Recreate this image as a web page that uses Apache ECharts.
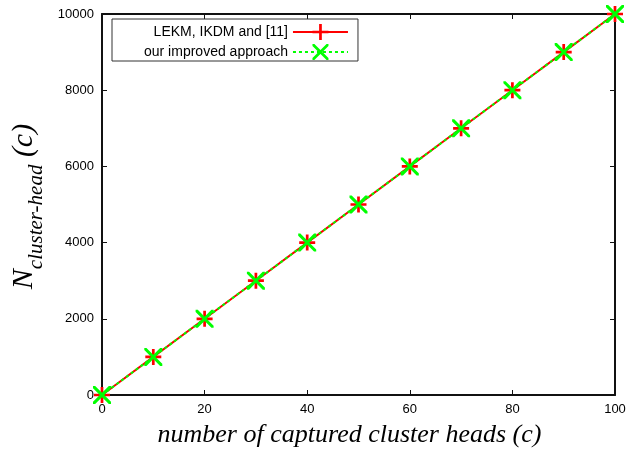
<!DOCTYPE html>
<html>
<head>
<meta charset="utf-8">
<script src="https://cdn.jsdelivr.net/npm/echarts@6/dist/echarts.min.js"></script>
<style>html,body{margin:0;padding:0;background:#fff}#c{width:639px;height:450px}</style>
</head>
<body>
<div id="c"></div>
<script>
const xValues = [0, 10, 20, 30, 40, 50, 60, 70, 80, 90, 100];
const seriesNames = ['LEKM, IKDM and [11]', 'our improved approach'];
const lekmValues = [0, 1000, 2000, 3000, 4000, 5000, 6000, 7000, 8000, 9000, 10000];
const improvedValues = [0, 1000, 2000, 3000, 4000, 5000, 6000, 7000, 8000, 9000, 10000];
const xTicks = [0, 20, 40, 60, 80, 100];
const yTicks = [0, 2000, 4000, 6000, 8000, 10000];

const plusPath = 'path://M41.5,0h17v100h-17z M0,41.5h100v17h-100z';
const crossPath = 'path://M0,0L12,0L100,88L100,100L88,100L0,12Z M100,0L100,12L12,100L0,100L0,88L88,0Z';
const chart = echarts.init(document.getElementById('c'), null, {renderer: 'canvas'});
const pair = (vals) => xValues.map((x, i) => [x, vals[i]]);
const axisCommon = () => ({
  axisLine: {show: true, onZero: false, lineStyle: {color: '#111', width: 2}},
  axisTick: {show: true, inside: true, length: 5, lineStyle: {color: '#111', width: 1}},
  splitLine: {show: false}
});
const labelStyle = () => ({fontFamily: 'Liberation Sans', fontSize: 13, color: '#000'});
chart.setOption({
  animation: false,
  backgroundColor: '#fff',
  grid: {left: 102, right: 24, top: 14, bottom: 55, containLabel: false, outerBoundsMode: 'none'},
  legend: {
    left: 112, top: 19, orient: 'vertical', align: 'right',
    itemWidth: 55, itemHeight: 20, itemGap: 4,
    padding: [5, 9, 1, 32],
    borderColor: '#333', borderWidth: 1, backgroundColor: '#fff',
    textStyle: {fontFamily: 'Liberation Sans', fontSize: 14, color: '#000'},
    data: seriesNames
  },
  xAxis: [
    Object.assign({type: 'value', min: 0, max: 100, interval: 20, position: 'bottom',
      axisLabel: Object.assign({margin: 8, formatter: (v) => xTicks.includes(v) ? String(v) : ''}, labelStyle()),
      name: 'number of captured cluster heads (c)', nameLocation: 'middle', nameGap: 27,
      nameTextStyle: {fontFamily: 'Liberation Serif', fontStyle: 'italic', fontSize: 26, color: '#000', padding: [0, 18, 0, 0]}
    }, axisCommon()),
    Object.assign({type: 'value', min: 0, max: 100, interval: 20, position: 'top', axisLabel: {show: false}}, axisCommon())
  ],
  yAxis: [
    Object.assign({type: 'value', min: 0, max: 10000, interval: 2000, position: 'left',
      axisLabel: Object.assign({margin: 8, formatter: (v) => yTicks.includes(v) ? String(v) : ''}, labelStyle()),
      name: '{n|N}{s|cluster-head}{n| (c)}', nameLocation: 'middle', nameGap: 53,
      nameTextStyle: {color: '#000', padding: [0, 4, 0, 0], rich: {
        n: {fontFamily: 'Liberation Serif', fontStyle: 'italic', fontSize: 30, color: '#000', verticalAlign: 'bottom', lineHeight: 32},
        s: {fontFamily: 'Liberation Serif', fontStyle: 'italic', fontSize: 21, color: '#000', verticalAlign: 'bottom', lineHeight: 21, padding: [0, 0, -8, 0]}
      }}
    }, axisCommon()),
    Object.assign({type: 'value', min: 0, max: 10000, interval: 2000, position: 'right', axisLabel: {show: false}}, axisCommon())
  ],
  series: [
    {
      name: seriesNames[0], type: 'line', xAxisIndex: 0, yAxisIndex: 0,
      data: pair(lekmValues),
      symbol: plusPath, symbolSize: 16, showAllSymbol: true,
      lineStyle: {color: '#ff0000', width: 2},
      itemStyle: {color: '#ff0000', borderWidth: 0},
      z: 2
    },
    {
      name: seriesNames[1], type: 'line', xAxisIndex: 0, yAxisIndex: 0,
      data: pair(improvedValues),
      symbol: crossPath, symbolSize: 18, showAllSymbol: true,
      lineStyle: {color: '#00ff00', width: 2, type: [3, 3]},
      itemStyle: {color: '#00ff00', borderWidth: 0},
      z: 3
    }
  ]
});
</script>
</body>
</html>
